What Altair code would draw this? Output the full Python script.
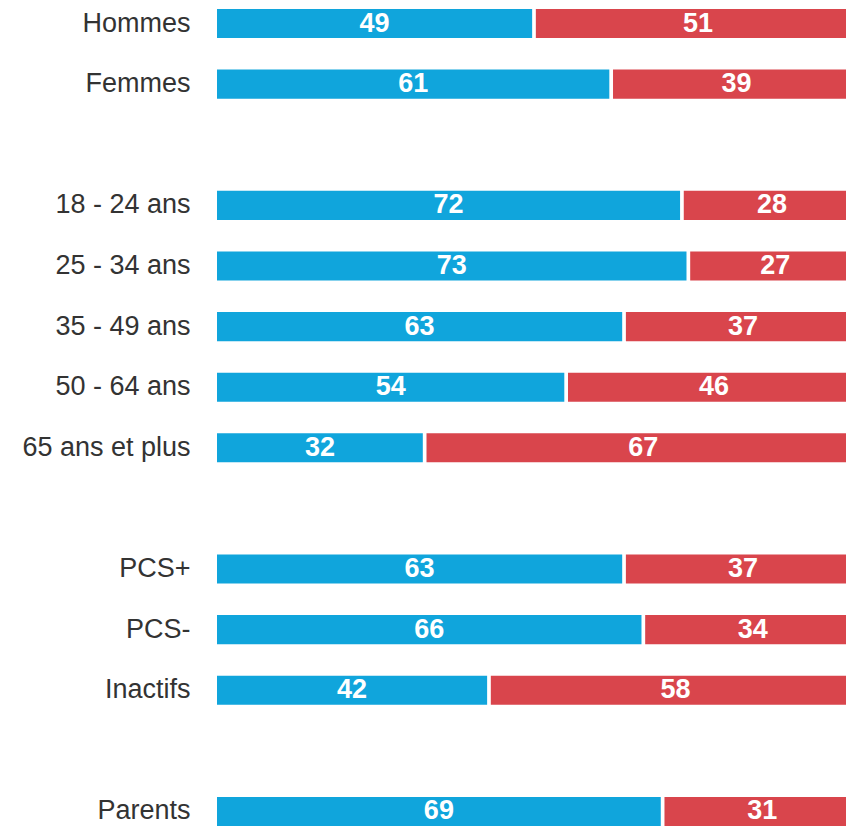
import altair as alt
import pandas as pd

categories = ["Hommes", "Femmes", "18 - 24 ans", "25 - 34 ans", "35 - 49 ans",
              "50 - 64 ans", "65 ans et plus", "PCS+", "PCS-", "Inactifs", "Parents"]
blue_values = [49, 61, 72, 73, 63, 54, 32, 63, 66, 42, 69]
red_values = [51, 39, 28, 27, 37, 46, 67, 37, 34, 58, 31]
row_order = ["Hommes", "Femmes", " ", "18 - 24 ans", "25 - 34 ans", "35 - 49 ans",
             "50 - 64 ans", "65 ans et plus", "  ", "PCS+", "PCS-", "Inactifs", "   ", "Parents"]
total = 100

BLUE = "#10A5DC"
RED = "#D9454C"
GAP = 3.7
FONT = "Arial, 'Liberation Sans', sans-serif"

df = pd.DataFrame({"cat": categories, "blue": blue_values, "red": red_values})
df["total"] = total
df["blue_mid"] = df["blue"] / 2
df["red_mid"] = (df["blue"] + df["total"]) / 2

xscale = alt.Scale(domain=[0, 97.8], nice=False, zero=True)
yenc = alt.Y("cat:N",
             scale=alt.Scale(domain=row_order, paddingInner=0.52, paddingOuter=0),
             axis=alt.Axis(title=None, domain=False, ticks=False, grid=False,
                           labelFontSize=27, labelFont=FONT,
                           labelColor="#333333", labelPadding=27, labelLimit=400))

base = alt.Chart(df)

blue_bar = base.mark_bar(color=BLUE, clip=True).encode(
    x=alt.X("blue:Q", scale=xscale, axis=None),
    y=yenc,
)
red_bar = base.mark_bar(color=RED, clip=True, xOffset=GAP, x2Offset=GAP).encode(
    x=alt.X("blue:Q", scale=xscale, axis=None),
    x2="total:Q",
    y=yenc,
)
blue_txt = base.mark_text(color="white", font=FONT, fontWeight="bold",
                          fontSize=27, baseline="middle", align="center").encode(
    x=alt.X("blue_mid:Q", scale=xscale, axis=None),
    y=yenc,
    text="blue:Q",
)
red_txt = base.mark_text(color="white", font=FONT, fontWeight="bold",
                         fontSize=27, baseline="middle", align="center", dx=GAP / 2,
                         clip=True).encode(
    x=alt.X("red_mid:Q", scale=xscale, axis=None),
    y=yenc,
    text="red:Q",
)

chart = alt.layer(blue_bar, red_bar, blue_txt, red_txt).properties(
    width=629, height=817,
    padding={"left": 217, "top": 9, "right": 0, "bottom": 0},
    autosize=alt.AutoSizeParams(type="none"),
    background="white",
).configure_view(stroke=None)

chart.save("out.html", embed_options={"renderer": "svg", "actions": False})
